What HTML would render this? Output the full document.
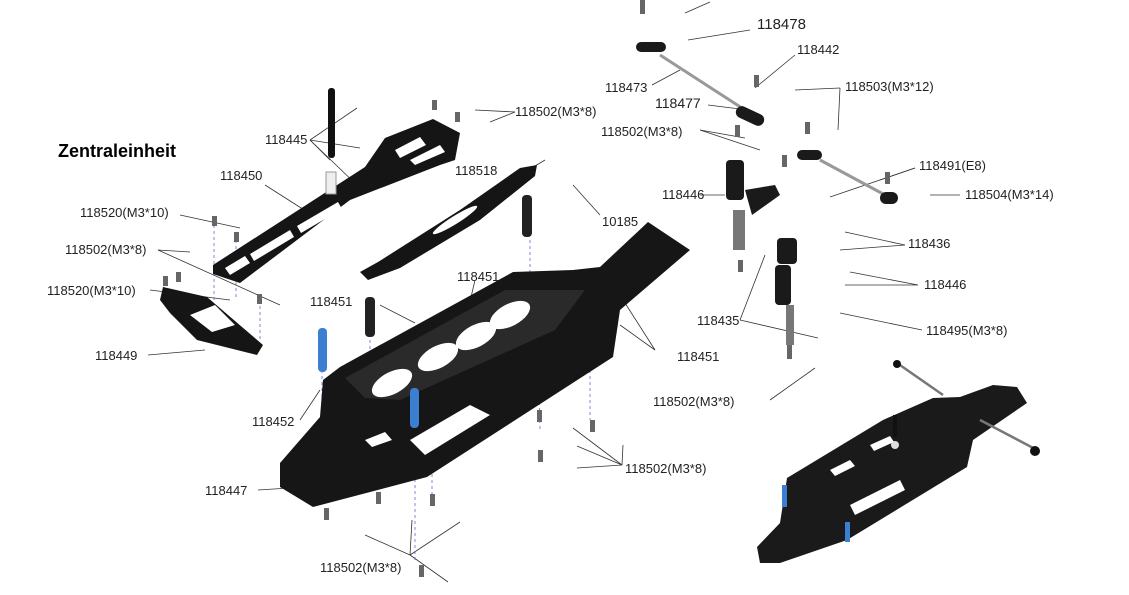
<!DOCTYPE html>
<html><head><meta charset="utf-8"><style>
html,body{margin:0;padding:0;background:#fff}
svg{display:block}
text{font-family:"Liberation Sans",sans-serif;font-size:13px;fill:#222}
</style></head><body>
<svg width="1129" height="595" viewBox="0 0 1129 595" xmlns="http://www.w3.org/2000/svg">
<g stroke="#333" stroke-width="0.8" fill="none">
<line x1="475" y1="110" x2="515" y2="112"/><line x1="490" y1="122" x2="515" y2="112"/>
<line x1="310" y1="140" x2="330" y2="160"/><line x1="310" y1="140" x2="360" y2="148"/>
<line x1="310" y1="140" x2="357" y2="108"/><line x1="310" y1="140" x2="360" y2="188"/>
<line x1="265" y1="185" x2="320" y2="220"/>
<line x1="180" y1="215" x2="240" y2="228"/>
<line x1="158" y1="250" x2="190" y2="252"/><line x1="158" y1="250" x2="280" y2="305"/>
<line x1="150" y1="290" x2="230" y2="300"/>
<line x1="148" y1="355" x2="205" y2="350"/>
<line x1="380" y1="305" x2="415" y2="323"/>
<line x1="300" y1="420" x2="320" y2="390"/>
<line x1="258" y1="490" x2="290" y2="488"/>
<line x1="475" y1="280" x2="460" y2="345"/>
<line x1="655" y1="350" x2="625" y2="303"/><line x1="655" y1="350" x2="620" y2="325"/>
<line x1="600" y1="215" x2="573" y2="185"/>
<line x1="520" y1="175" x2="545" y2="160"/>
<line x1="622" y1="465" x2="573" y2="428"/><line x1="622" y1="465" x2="577" y2="446"/><line x1="622" y1="465" x2="577" y2="468"/><line x1="622" y1="465" x2="623" y2="445"/>
<line x1="410" y1="555" x2="365" y2="535"/><line x1="410" y1="555" x2="460" y2="522"/><line x1="410" y1="555" x2="448" y2="582"/><line x1="410" y1="555" x2="412" y2="520"/>
<line x1="685" y1="13" x2="710" y2="2"/><line x1="688" y1="40" x2="750" y2="30"/>
<line x1="795" y1="55" x2="755" y2="88"/>
<line x1="652" y1="85" x2="680" y2="70"/>
<line x1="708" y1="105" x2="748" y2="110"/>
<line x1="840" y1="88" x2="795" y2="90"/><line x1="840" y1="88" x2="838" y2="130"/>
<line x1="700" y1="130" x2="745" y2="138"/><line x1="700" y1="130" x2="760" y2="150"/>
<line x1="915" y1="168" x2="830" y2="197"/><line x1="915" y1="168" x2="880" y2="180"/>
<line x1="930" y1="195" x2="960" y2="195"/>
<line x1="700" y1="195" x2="725" y2="195"/>
<line x1="905" y1="245" x2="845" y2="232"/><line x1="905" y1="245" x2="840" y2="250"/>
<line x1="918" y1="285" x2="850" y2="272"/><line x1="918" y1="285" x2="845" y2="285"/>
<line x1="740" y1="320" x2="818" y2="338"/><line x1="740" y1="320" x2="765" y2="255"/>
<line x1="922" y1="330" x2="840" y2="313"/>
<line x1="770" y1="400" x2="815" y2="368"/>
</g>
<g stroke="#6666cc" stroke-width="0.8" stroke-dasharray="3,3">
<line x1="163" y1="290" x2="163" y2="300"/><line x1="214" y1="225" x2="214" y2="300"/><line x1="236" y1="240" x2="236" y2="300"/><line x1="260" y1="300" x2="260" y2="340"/>
<line x1="322" y1="370" x2="322" y2="400"/><line x1="415" y1="425" x2="415" y2="560"/><line x1="432" y1="420" x2="432" y2="495"/>
<line x1="530" y1="240" x2="530" y2="280"/><line x1="538" y1="330" x2="540" y2="430"/><line x1="590" y1="370" x2="590" y2="420"/>
<line x1="370" y1="340" x2="370" y2="380"/><line x1="331" y1="190" x2="331" y2="215"/>
</g>
<polygon points="280,463 320,417 323,380 340,367 513,272 573,270 600,267 648,222 690,250 620,310 613,357 427,477 313,507 280,487" fill="#161616"/>
<polygon points="345,378 505,290 585,290 555,330 400,400 365,398" fill="#2a2a2a"/>
<g fill="#fff">
<ellipse cx="392" cy="383" rx="22" ry="11" transform="rotate(-28 392 383)"/>
<ellipse cx="438" cy="357" rx="22" ry="11" transform="rotate(-28 438 357)"/>
<ellipse cx="476" cy="336" rx="22" ry="11" transform="rotate(-28 476 336)"/>
<ellipse cx="510" cy="315" rx="22" ry="11" transform="rotate(-28 510 315)"/>
<polygon points="410,440 470,405 490,415 425,455"/>
<polygon points="365,440 385,432 392,440 372,447"/>
</g>
<!-- upper deck 118450 -->
<polygon points="213,265 365,167 385,138 433,119 460,133 455,160 440,165 350,200 240,283 213,274" fill="#151515"/>
<g fill="#fff"><polygon points="225,268 245,256 250,263 230,275"/><polygon points="250,254 290,230 294,237 254,261"/><polygon points="297,226 338,202 342,209 301,233"/><polygon points="395,150 420,137 426,145 400,158"/><polygon points="410,160 440,145 445,152 415,165"/></g>
<polygon points="360,272 378,262 460,210 520,168 537,165 535,176 480,220 400,268 368,280" fill="#151515"/>
<ellipse cx="455" cy="220" rx="26" ry="4" fill="#fff" transform="rotate(-32 455 220)"/>
<polygon points="163,287 207,297 263,345 257,355 197,340 170,313 160,300" fill="#151515"/>
<polygon points="190,315 215,305 235,325 212,332" fill="#fff"/>
<rect x="328" y="88" width="7" height="70" rx="3" fill="#111"/><rect x="326" y="172" width="10" height="22" fill="#eee" stroke="#999"/>
<rect x="522" y="195" width="10" height="42" rx="4" fill="#222"/>
<rect x="365" y="297" width="10" height="40" rx="4" fill="#222"/>
<rect x="318" y="328" width="9" height="44" rx="4" fill="#3b7fd0"/>
<rect x="410" y="388" width="9" height="40" rx="4" fill="#3b7fd0"/>
<g fill="#666">
<rect x="432" y="100" width="5" height="10"/><rect x="455" y="112" width="5" height="10"/><rect x="212" y="216" width="5" height="10"/><rect x="234" y="232" width="5" height="10"/>
<rect x="163" y="276" width="5" height="10"/><rect x="176" y="272" width="5" height="10"/><rect x="257" y="294" width="5" height="10"/><rect x="537" y="410" width="5" height="12"/><rect x="538" y="450" width="5" height="12"/>
<rect x="590" y="420" width="5" height="12"/><rect x="324" y="508" width="5" height="12"/><rect x="376" y="492" width="5" height="12"/><rect x="430" y="494" width="5" height="12"/><rect x="419" y="565" width="5" height="12"/>
<rect x="640" y="0" width="5" height="14"/><rect x="754" y="75" width="5" height="12"/><rect x="735" y="125" width="5" height="12"/><rect x="782" y="155" width="5" height="12"/>
<rect x="805" y="122" width="5" height="12"/><rect x="885" y="172" width="5" height="12"/><rect x="738" y="260" width="5" height="12"/><rect x="787" y="345" width="5" height="14"/>
</g>
<g fill="#1a1a1a">
<rect x="636" y="42" width="30" height="10" rx="5"/><line x1="660" y1="55" x2="745" y2="110" stroke="#999" stroke-width="3"/>
<rect x="735" y="110" width="30" height="12" rx="6" transform="rotate(25 750 116)"/>
<rect x="797" y="150" width="25" height="10" rx="5"/><line x1="820" y1="160" x2="885" y2="195" stroke="#999" stroke-width="3"/>
<rect x="880" y="192" width="18" height="12" rx="6"/>
<rect x="726" y="160" width="18" height="40" rx="4"/>
<polygon points="745,190 775,185 780,195 752,215"/>
<rect x="733" y="210" width="12" height="40" fill="#777"/>
<rect x="777" y="238" width="20" height="26" rx="4"/><rect x="775" y="265" width="16" height="40" rx="4"/>
<rect x="786" y="305" width="8" height="40" fill="#777"/>
</g>
<!-- mini overview -->
<polygon points="757,547 780,523 787,478 883,420 933,398 960,397 993,385 1017,387 1027,403 973,440 967,467 847,540 780,563 760,563" fill="#1a1a1a"/>
<g fill="#fff"><polygon points="850,505 900,480 905,490 855,515"/><polygon points="830,470 850,460 855,466 835,476"/><polygon points="870,445 890,436 894,442 874,451"/></g>
<rect x="782" y="485" width="5" height="22" fill="#3b7fd0"/><rect x="845" y="522" width="5" height="20" fill="#3b7fd0"/>
<line x1="897" y1="363" x2="943" y2="395" stroke="#777" stroke-width="2.5"/>
<line x1="980" y1="420" x2="1037" y2="450" stroke="#777" stroke-width="2.5"/>
<circle cx="897" cy="364" r="4" fill="#111"/><circle cx="1035" cy="451" r="5" fill="#111"/>
<rect x="893" y="415" width="4" height="22" fill="#111"/><circle cx="895" cy="445" r="4" fill="#ddd"/>
<text x="515" y="116">118502(M3*8)</text>
<text x="265" y="144">118445</text>
<text x="220" y="180">118450</text>
<text x="80" y="217">118520(M3*10)</text>
<text x="65" y="254">118502(M3*8)</text>
<text x="47" y="295">118520(M3*10)</text>
<text x="95" y="360">118449</text>
<text x="58" y="157" style="font-size:18px;font-weight:bold;fill:#000">Zentraleinheit</text>
<text x="455" y="175">118518</text>
<text x="602" y="226">10185</text>
<text x="457" y="281">118451</text>
<text x="310" y="306">118451</text>
<text x="677" y="361">118451</text>
<text x="252" y="426">118452</text>
<text x="205" y="495">118447</text>
<text x="625" y="473">118502(M3*8)</text>
<text x="320" y="572">118502(M3*8)</text>
<text x="757" y="29" style="font-size:15px">118478</text>
<text x="797" y="54">118442</text>
<text x="605" y="92">118473</text>
<text x="655" y="108" style="font-size:14px">118477</text>
<text x="845" y="91">118503(M3*12)</text>
<text x="601" y="136">118502(M3*8)</text>
<text x="919" y="170">118491(E8)</text>
<text x="965" y="199">118504(M3*14)</text>
<text x="662" y="199">118446</text>
<text x="908" y="248">118436</text>
<text x="924" y="289">118446</text>
<text x="697" y="325">118435</text>
<text x="926" y="335">118495(M3*8)</text>
<text x="653" y="406">118502(M3*8)</text>
</svg>
</body></html>
